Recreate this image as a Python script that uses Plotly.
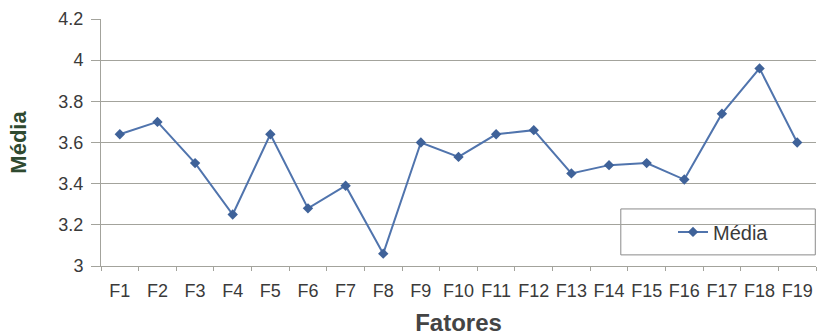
import plotly.graph_objects as go

# Fatores e respetivas médias
fatores = [f"F{i}" for i in range(1, 20)]
medias = [3.64, 3.70, 3.50, 3.25, 3.64, 3.28, 3.39, 3.06, 3.60, 3.53,
          3.64, 3.66, 3.45, 3.49, 3.50, 3.42, 3.74, 3.96, 3.60]

line_color = "#5074ad"
grid_color = "#a3a39c"
font_family = "Liberation Sans, Arial, sans-serif"

fig = go.Figure()
fig.add_trace(go.Scatter(
    x=fatores, y=medias, name="Média", mode="lines+markers",
    line=dict(color=line_color, width=2),
    marker=dict(symbol="diamond", size=8, color="#3f6299"),
))

# caixa da legenda
fig.add_shape(type="rect", xref="paper", yref="paper",
              x0=0.727, x1=0.999, y0=0.045, y1=0.231,
              line=dict(color="#8a8a8a", width=1), fillcolor="white", layer="below")

fig.update_layout(
    width=817, height=336,
    margin=dict(l=101, r=1, t=19, b=70),
    paper_bgcolor="white", plot_bgcolor="white",
    font=dict(family=font_family, color="#3a3a3a"),
    showlegend=True,
    legend=dict(x=0.80, y=0.138, xanchor="left", yanchor="middle",
                bgcolor="rgba(0,0,0,0)", borderwidth=0,
                font=dict(size=20, color="#3a3a3a")),
    xaxis=dict(
        type="category", range=[-0.5, 18.5], automargin=False,
        showgrid=False, showline=True, linecolor=grid_color, linewidth=1,
        ticks="outside", tickson="boundaries", ticklen=4, tickcolor=grid_color,
        tickfont=dict(size=18, color="#3a3a3a"), tickangle=0,
        ticklabelstandoff=8,
        title=dict(text="<b>Fatores</b>", font=dict(size=24, color="#444444"), standoff=18),
    ),
    yaxis=dict(
        range=[3, 4.2], dtick=0.2, automargin=False,
        showgrid=True, gridcolor=grid_color, gridwidth=1,
        showline=True, linecolor=grid_color, linewidth=1,
        ticks="outside", ticklen=9, tickcolor=grid_color,
        tickfont=dict(size=18, color="#3a3a3a"),
        ticklabelstandoff=4,
        zeroline=False,
        title=dict(text="<b>Média</b>", font=dict(size=22, color="#2f4a30"), standoff=25),
    ),
)

fig.write_html("out.html")
